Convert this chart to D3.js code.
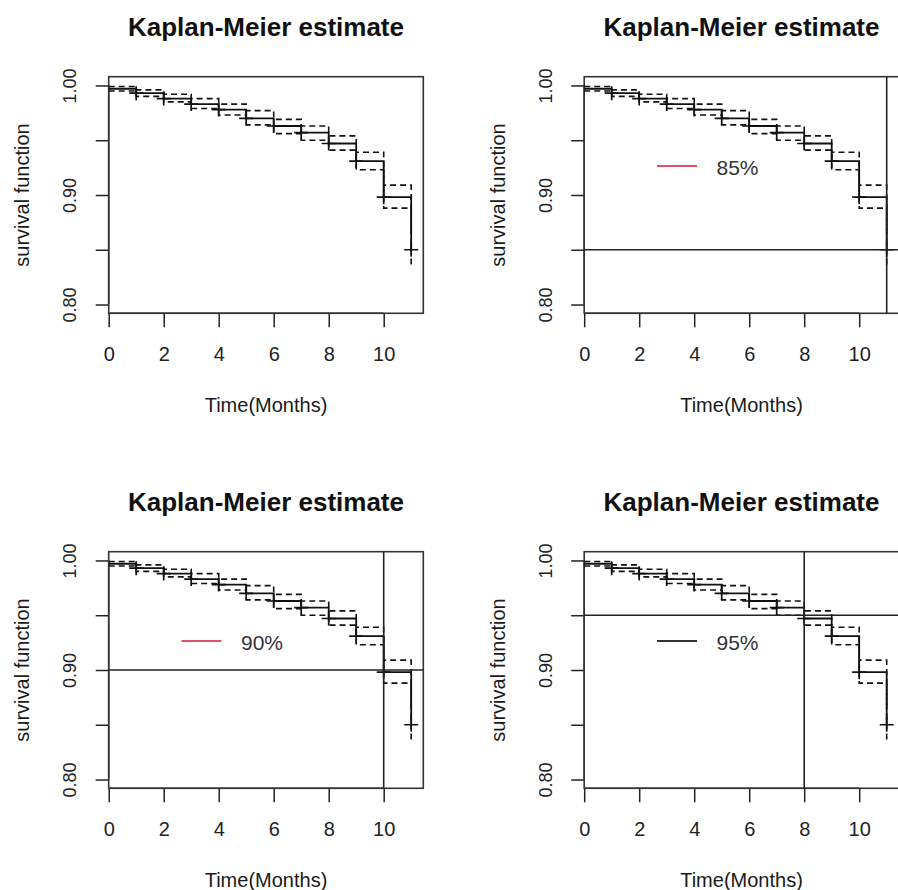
<!DOCTYPE html>
<html>
<head>
<meta charset="utf-8">
<script src="https://cdn.jsdelivr.net/npm/d3@7"></script>
<style>
  body { margin: 0; background: #fff; }
  svg { display: block; font-family: "Liberation Sans", Arial, sans-serif; }
  .tick line, .domain { stroke: #222; stroke-width: 1.5; }
  .tick text { fill: #222; }
</style>
</head>
<body>
<script>
// Kaplan-Meier estimate
const times = [0, 1, 2, 3, 4, 5, 6, 7, 8, 9, 10, 11]
const survival = [0.997, 0.993, 0.988, 0.983, 0.978, 0.970, 0.963, 0.957, 0.947, 0.931, 0.898, 0.850]
const upperCI = [0.999, 0.996, 0.992, 0.988, 0.983, 0.977, 0.969, 0.963, 0.954, 0.939, 0.909, 0.866]
const lowerCI = [0.995, 0.990, 0.985, 0.979, 0.973, 0.964, 0.956, 0.950, 0.941, 0.923, 0.888, 0.836]

const xTicks = [0, 2, 4, 6, 8, 10]
const yTicks = [0.80, 0.85, 0.90, 0.95, 1.00]
const yTickLabels = ["0.80", "", "0.90", "", "1.00"]

// one entry per panel: none, 85%, 90%, 95%
const panelLevels = [null, 0.85, 0.90, 0.95]
const legendLabels = [null, "85%", "90%", "95%"]
const legendColors = [null, "#e0506a", "#e0506a", "#333"]

const W = 898, H = 890
const offsets = [[0, 0], [475.5, 0], [0, 475], [475.5, 475]]

const svg = d3.select("body").append("svg")
  .attr("width", W)
  .attr("height", H)

const x = d3.scaleLinear().domain([0, 11.44]).range([108.7, 423.3])
const y = d3.scaleLinear().domain([0.792, 1.008]).range([313.3, 76.7])

const pts = times.map((t, i) => ({t: t, s: survival[i], hi: upperCI[i], lo: lowerCI[i]}))
const step = key => d3.line().curve(d3.curveStepAfter).x(d => x(d.t)).y(d => y(d[key]))

panelLevels.forEach((level, p) => {
  const g = svg.append("g").attr("transform", `translate(${offsets[p][0]},${offsets[p][1]})`)
  const [x0, x1] = x.range()
  const [y0, y1] = y.range()

  // title and axis titles
  g.append("text")
    .attr("x", (x0 + x1) / 2).attr("y", 27)
    .attr("text-anchor", "middle").attr("dominant-baseline", "central")
    .style("font-weight", "bold").style("font-size", "26px").attr("fill", "#111")
    .text("Kaplan-Meier estimate")

  g.append("text")
    .attr("x", (x0 + x1) / 2).attr("y", 405)
    .attr("text-anchor", "middle").attr("dominant-baseline", "central")
    .style("font-size", "20px").attr("fill", "#1a1a1a")
    .text("Time(Months)")

  g.append("text")
    .attr("transform", `translate(22,${(y0 + y1) / 2}) rotate(-90)`)
    .attr("text-anchor", "middle").attr("dominant-baseline", "central")
    .style("font-size", "20px").attr("fill", "#1a1a1a")
    .text("survival function")

  // axes, R style: axis line only between the outer ticks
  const xa = g.append("g").attr("transform", `translate(0,${y0})`)
    .call(d3.axisBottom(x).tickValues(xTicks).tickSize(14).tickSizeOuter(0).tickPadding(0))
  xa.select(".domain").attr("d", `M${x(xTicks[0])},0H${x(xTicks[xTicks.length - 1])}`)
  xa.selectAll(".tick text")
    .attr("y", 41).attr("dy", null).attr("dominant-baseline", "central")
    .style("font-size", "20px")

  const ya = g.append("g").attr("transform", `translate(${x0},0)`)
    .call(d3.axisLeft(y).tickValues(yTicks).tickSize(13).tickSizeOuter(0)
      .tickFormat((d, i) => yTickLabels[i]))
  ya.select(".domain").attr("d", `M0,${y(yTicks[0])}V${y(yTicks[yTicks.length - 1])}`)
  ya.selectAll(".tick text")
    .attr("x", null).attr("dy", null)
    .attr("transform", `translate(${70 - x0},0) rotate(-90)`)
    .attr("text-anchor", "middle").attr("dominant-baseline", "central")
    .style("font-size", "18px")

  // plot box
  g.append("rect")
    .attr("x", x0).attr("y", y1).attr("width", x1 - x0).attr("height", y0 - y1)
    .attr("fill", "none").attr("stroke", "#333").attr("stroke-width", 1.6)

  // confidence band
  ;["hi", "lo"].forEach(k => {
    g.append("path").datum(pts)
      .attr("d", step(k))
      .attr("fill", "none").attr("stroke", "#111").attr("stroke-width", 1.6)
      .attr("stroke-dasharray", "6,4")
  })

  // survival curve
  g.append("path").datum(pts)
    .attr("d", step("s"))
    .attr("fill", "none").attr("stroke", "#111").attr("stroke-width", 1.8)

  // censor marks
  g.selectAll(".mark").data(pts.slice(1)).enter().append("path")
    .attr("class", "mark")
    .attr("d", d => `M${x(d.t) - 7},${y(d.s)}h14M${x(d.t)},${y(d.s) - 7}v14`)
    .attr("stroke", "#111").attr("stroke-width", 1.7)

  if (level !== null) {
    // first time the curve reaches the level
    const cut = pts.find(d => d.s <= level).t
    g.append("line")
      .attr("x1", x0).attr("x2", x1).attr("y1", y(level)).attr("y2", y(level))
      .attr("stroke", "#222").attr("stroke-width", 1.6)
    g.append("line")
      .attr("x1", x(cut)).attr("x2", x(cut)).attr("y1", y1).attr("y2", y0)
      .attr("stroke", "#222").attr("stroke-width", 1.6)

    // legend
    g.append("line")
      .attr("x1", 181.5).attr("x2", 221.5).attr("y1", 166).attr("y2", 166)
      .attr("stroke", legendColors[p]).attr("stroke-width", 1.8)
    g.append("text")
      .attr("x", 241).attr("y", 167)
      .attr("dominant-baseline", "central")
      .style("font-size", "21px").attr("fill", "#333")
      .text(legendLabels[p])
  }
})
</script>
</body>
</html>
